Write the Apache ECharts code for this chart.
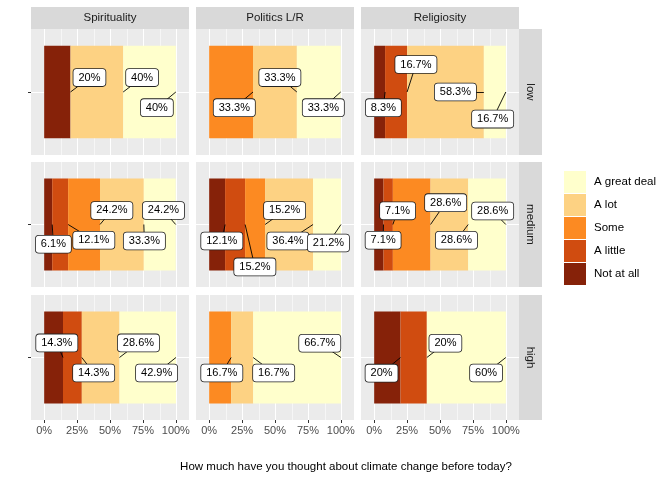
<!DOCTYPE html>
<html><head><meta charset="utf-8">
<script src="https://cdn.jsdelivr.net/npm/echarts@6/dist/echarts.min.js"></script>
<style>html,body{margin:0;padding:0;background:#fff}#c{width:672px;height:480px}</style>
</head><body><div id="c"></div>
<script>
// ---- data ----
const levels = ['Not at all', 'A little', 'Some', 'A lot', 'A great deal'];
const legendOrder = ['A great deal', 'A lot', 'Some', 'A little', 'Not at all'];
const facetCols = ['Spirituality', 'Politics L/R', 'Religiosity'];
const facetRows = ['low', 'medium', 'high'];
const xTicks = [0, 0.25, 0.5, 0.75, 1];
const xMinor = [0.125, 0.375, 0.625, 0.875];
const xTitle = 'How much have you thought about climate change before today?';

// percent per level (Not at all .. A great deal)
const spiritualityLow = [20, 0, 0, 40, 40];
const politicsLow = [0, 0, 33.3, 33.3, 33.3];
const religiosityLow = [8.3, 16.7, 0, 58.3, 16.7];
const spiritualityMedium = [6.1, 12.1, 24.2, 33.3, 24.2];
const politicsMedium = [12.1, 15.2, 15.2, 36.4, 21.2];
const religiosityMedium = [7.1, 7.1, 28.6, 28.6, 28.6];
const spiritualityHigh = [14.3, 14.3, 0, 28.6, 42.9];
const politicsHigh = [0, 0, 16.7, 16.7, 66.7];
const religiosityHigh = [20, 20, 0, 0, 60];

// repelled label positions (data units) for non-zero levels, in level order
const labelXSpiritualityLow = [0.344, 0.744, 0.856];
const labelYSpiritualityLow = [1.137, 1.137, 0.851];
const labelXPoliticsLow = [0.191, 0.537, 0.867];
const labelYPoliticsLow = [0.851, 1.137, 0.851];
const labelXReligiosityLow = [0.070, 0.317, 0.617, 0.900];
const labelYReligiosityLow = [0.851, 1.262, 1.0, 0.742];
const labelXSpiritualityMedium = [0.070, 0.377, 0.514, 0.761, 0.906];
const labelYSpiritualityMedium = [0.811, 0.849, 1.135, 0.841, 1.135];
const labelXPoliticsMedium = [0.096, 0.347, 0.573, 0.598, 0.906];
const labelYPoliticsMedium = [0.841, 0.593, 1.135, 0.841, 0.822];
const labelXReligiosityMedium = [0.068, 0.178, 0.543, 0.625, 0.900];
const labelYReligiosityMedium = [0.849, 1.131, 1.21, 0.849, 1.129];
const labelXSpiritualityHigh = [0.096, 0.376, 0.716, 0.854];
const labelYSpiritualityHigh = [1.14, 0.851, 1.14, 0.851];
const labelXPoliticsHigh = [0.096, 0.490, 0.840];
const labelYPoliticsHigh = [0.851, 0.851, 1.137];
const labelXReligiosityHigh = [0.056, 0.541, 0.850];
const labelYReligiosityHigh = [0.850, 1.137, 0.851];

// ---- styling / layout ----
const colors = ['#862209', '#D04C10', '#FC8A22', '#FDD283', '#FFFFCC'];
const FONT = '"Liberation Sans", Arial, Helvetica, sans-serif';
const colX = [31, 196, 361], panelW = 158;
const rowY = [29, 162, 295], rowH = [126, 125, 125];

const panels = [
  [spiritualityLow, politicsLow, religiosityLow],
  [spiritualityMedium, politicsMedium, religiosityMedium],
  [spiritualityHigh, politicsHigh, religiosityHigh]
];
const labelXs = [
  [labelXSpiritualityLow, labelXPoliticsLow, labelXReligiosityLow],
  [labelXSpiritualityMedium, labelXPoliticsMedium, labelXReligiosityMedium],
  [labelXSpiritualityHigh, labelXPoliticsHigh, labelXReligiosityHigh]
];
const labelYs = [
  [labelYSpiritualityLow, labelYPoliticsLow, labelYReligiosityLow],
  [labelYSpiritualityMedium, labelYPoliticsMedium, labelYReligiosityMedium],
  [labelYSpiritualityHigh, labelYPoliticsHigh, labelYReligiosityHigh]
];

const grid = [], xAxis = [], yAxis = [], series = [], graphic = [];
for (let r = 0; r < 3; r++) {
  for (let c = 0; c < 3; c++) {
    const g = r * 3 + c;
    grid.push({left: colX[c], top: rowY[r], width: panelW, height: rowH[r],
      show: true, backgroundColor: '#EBEBEB', borderWidth: 0, containLabel: false});
    xAxis.push({gridIndex: g, type: 'value', min: -0.1, max: 1.1,
      axisLine: {show: false},
      axisTick: {show: r === 2, customValues: xTicks, length: 3, lineStyle: {color: '#333', width: 1}},
      axisLabel: {show: r === 2, customValues: xTicks, margin: 5, color: '#4D4D4D', fontSize: 11, fontFamily: FONT,
        formatter: v => Math.round(v * 100) + '%'},
      splitLine: {show: true, lineStyle: {color: '#fff', width: 1.1}},
      minorSplitLine: {show: false}});
    yAxis.push({gridIndex: g, type: 'category', data: [facetRows[r]], show: false});
    yAxis.push({gridIndex: g, type: 'value', min: 0.4, max: 1.6, position: 'left',
      axisLine: {show: false},
      axisTick: {show: c === 0, customValues: [1], length: 3, lineStyle: {color: '#333', width: 1}},
      axisLabel: {show: false, customValues: [1]},
      splitLine: {show: true, lineStyle: {color: '#fff', width: 1.1}}});

    // minor gridlines
    series.push({type: 'line', xAxisIndex: g, yAxisIndex: 2 * g + 1, data: [[0.5, 1]],
      showSymbol: false, lineStyle: {width: 0, opacity: 0}, silent: true, z: 1,
      markLine: {silent: true, z: 1, symbol: ['none', 'none'], label: {show: false},
        lineStyle: {color: '#fff', width: 0.55, type: 'solid'},
        data: xMinor.map(v => ({xAxis: v}))}});

    const vals = panels[r][c];
    levels.forEach((lv, i) => {
      series.push({name: lv, type: 'bar', stack: 'p' + g, xAxisIndex: g, yAxisIndex: 2 * g,
        barWidth: '73.5%', itemStyle: {color: colors[i]}, data: [vals[i] / 100], z: 2});
    });

    // labels + segments
    const lx = labelXs[r][c], ly = labelYs[r][c];
    const segs = [], labs = [];
    let cum = 0, k = 0;
    vals.forEach(v => {
      cum += v;
      if (v > 0) {
        segs.push({coords: [[cum / 100, 1], [lx[k], ly[k]]]});
        labs.push({value: [lx[k], ly[k]], text: v + '%'});
        k++;
      }
    });
    series.push({type: 'lines', coordinateSystem: 'cartesian2d', xAxisIndex: g, yAxisIndex: 2 * g + 1,
      data: segs, silent: true, z: 3, lineStyle: {color: '#000', width: 0.9, opacity: 1, curveness: 0}});
    series.push({type: 'scatter', xAxisIndex: g, yAxisIndex: 2 * g + 1, data: labs, silent: true, z: 4,
      symbolSize: 0, itemStyle: {color: '#fff', opacity: 1},
      label: {show: true, position: 'inside', formatter: p => p.data.text,
        color: '#000', fontSize: 11, fontFamily: FONT, lineHeight: 12, opacity: 1,
        backgroundColor: '#fff', borderColor: '#222', borderWidth: 0.8, borderRadius: 3, padding: [3, 5, 2, 5]}});
  }
}

// strips
facetCols.forEach((t, c) => {
  graphic.push({type: 'rect', shape: {x: colX[c], y: 7, width: panelW, height: 22}, style: {fill: '#D9D9D9'}, silent: true});
  graphic.push({type: 'text', x: colX[c] + panelW / 2, y: 18, silent: true,
    style: {text: t, fill: '#1A1A1A', fontSize: 11.5, fontFamily: FONT, align: 'center', verticalAlign: 'middle'}});
});
facetRows.forEach((t, r) => {
  graphic.push({type: 'rect', shape: {x: 519, y: rowY[r], width: 23, height: rowH[r]}, style: {fill: '#D9D9D9'}, silent: true});
  graphic.push({type: 'text', x: 530.5, y: rowY[r] + rowH[r] / 2, rotation: -Math.PI / 2, silent: true,
    style: {text: t, fill: '#1A1A1A', fontSize: 11.5, fontFamily: FONT, align: 'center', verticalAlign: 'middle'}});
});
graphic.push({type: 'text', x: 346, y: 467, silent: true,
  style: {text: xTitle, fill: '#000', fontSize: 11.5, fontFamily: FONT, align: 'center', verticalAlign: 'middle'}});

const chart = echarts.init(document.getElementById('c'), null, {renderer: 'canvas'});
chart.setOption({
  animation: false,
  backgroundColor: '#fff',
  grid, xAxis, yAxis, series, graphic,
  legend: {data: legendOrder, orient: 'vertical', left: 564, top: 171, padding: 0, itemWidth: 22, itemHeight: 22, itemGap: 1,
    icon: 'rect', selectedMode: false,
    textStyle: {color: '#000', fontSize: 11.5, fontFamily: FONT, padding: [0, 0, 0, 3]}}
});
</script>
</body></html>
